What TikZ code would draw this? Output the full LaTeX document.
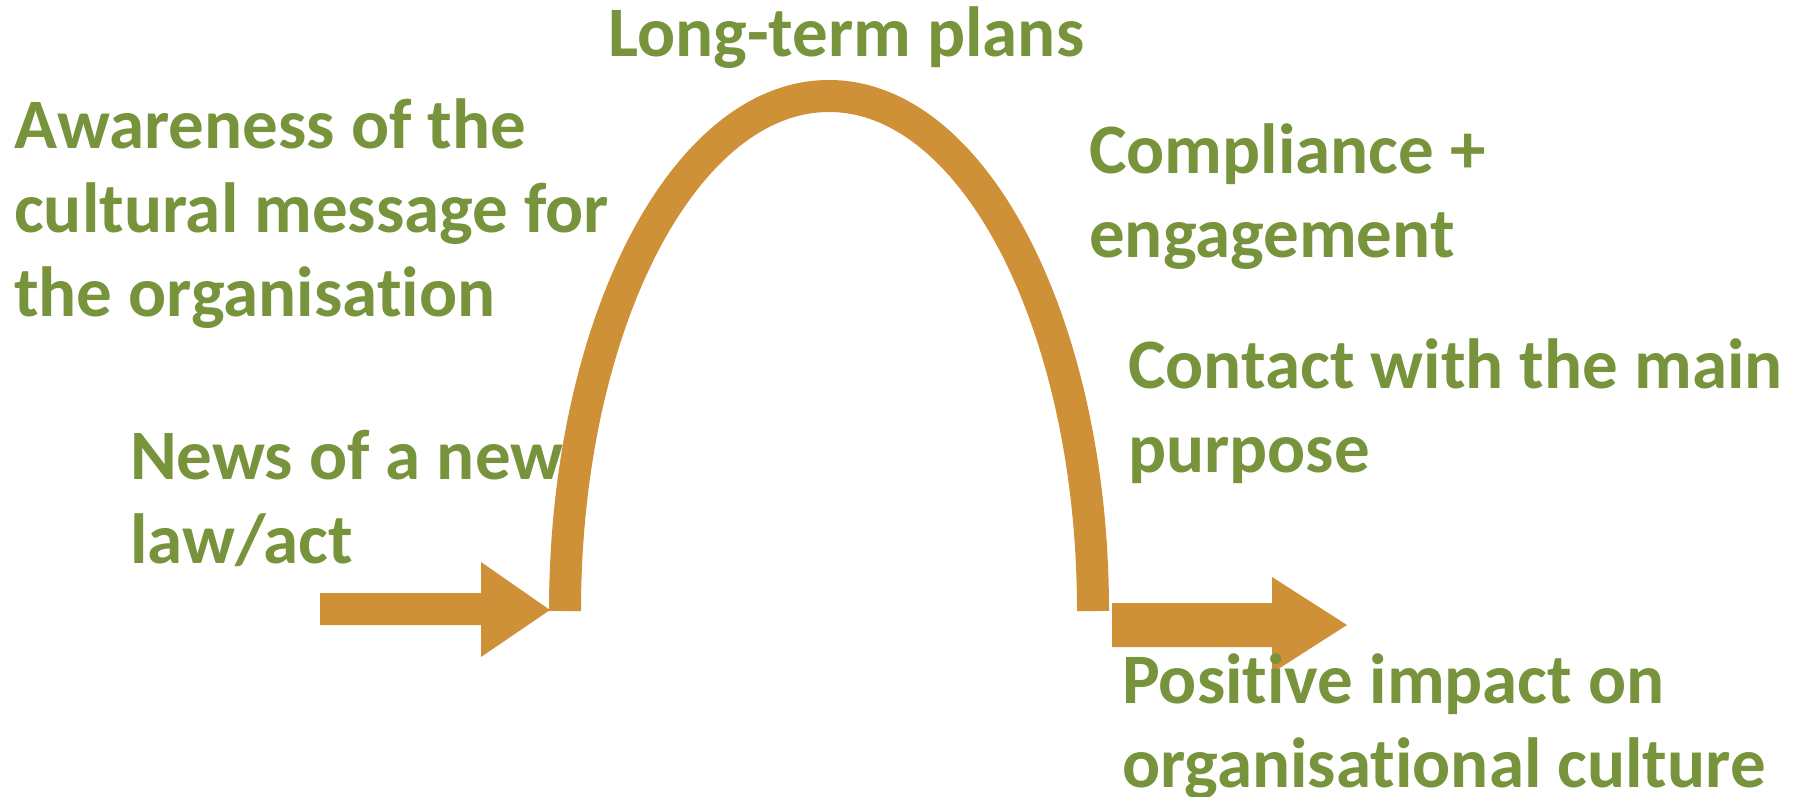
\documentclass[tikz,border=0pt]{standalone}
\usepackage{fontspec}
\setmainfont[Ligatures={NoCommon}]{Carlito}
\definecolor{arcorange}{RGB}{207,145,56}
\definecolor{labelgreen}{RGB}{119,147,60}
\begin{document}
\begin{tikzpicture}[x=1pt,y=-1pt,
  lbl/.style={anchor=base west, inner sep=0pt, align=left, text=labelgreen,
    font=\bfseries\fontsize{71}{84}\selectfont},
  band/.style={fill=arcorange, draw=none},
  archline/.style={draw=arcorange, line width=32pt}]
\useasboundingbox (0,0) rectangle (1801,797);
% arch
\coordinate (archL) at (565,611);
\draw[archline] (archL) arc[start angle=180, end angle=360, x radius=264, y radius=515] coordinate (archR);
% left arrow
\fill[band] (320,593) -- (481,593) -- (481,562) -- (550,610) -- (481,657) -- (481,625) -- (320,625) -- cycle;
% right arrow
\fill[band] (1112,603) -- (1272,603) -- (1272,577) -- (1347,625) -- (1272,673) -- (1272,647) -- (1112,647) -- cycle;
% labels (base anchor = baseline of last line)
\node[lbl] (aware) at (14,316) {Awareness of the\\cultural message for\\the organisation};
\node[lbl] (plans) at (608,57) {Long-term plans};
\node[lbl] (comp) at (1089,257) {Compliance +\\engagement};
\node[lbl] (contact) at (1128,472) {Contact with the main\\purpose};
\node[lbl] (news) at (130,563) {News of a new\\law/act};
\node[lbl] (impact) at (1122,787) {Positive impact on\\organisational culture};
\end{tikzpicture}
\end{document}
